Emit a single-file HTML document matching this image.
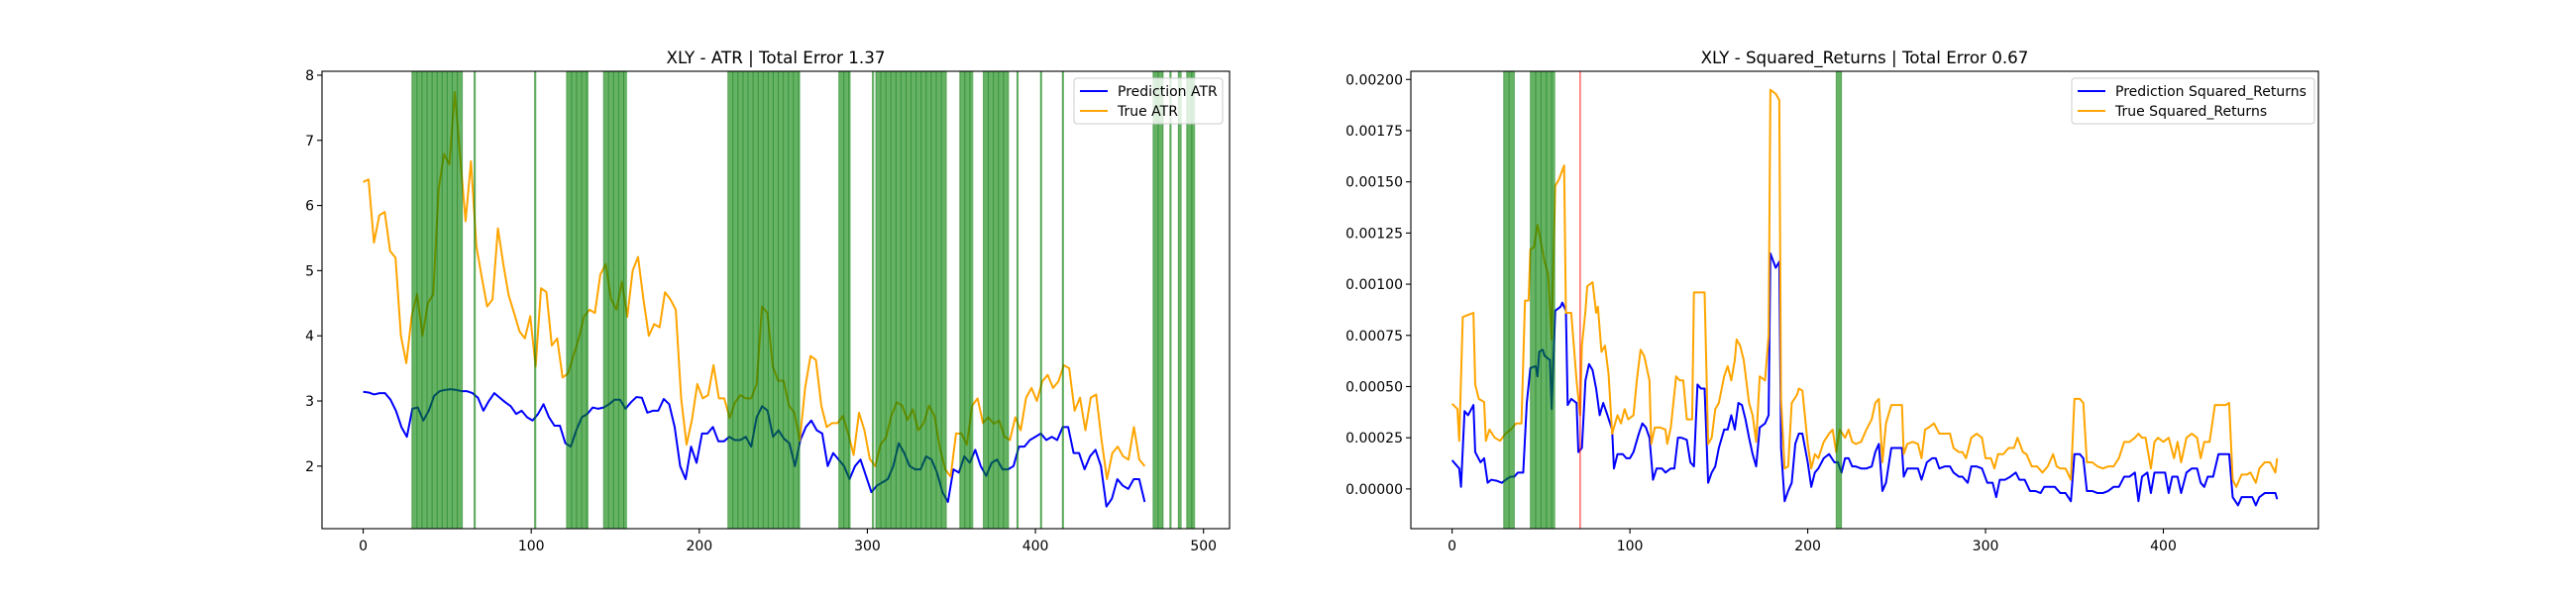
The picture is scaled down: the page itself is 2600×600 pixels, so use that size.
<!DOCTYPE html>
<html><head><meta charset="utf-8">
<style>
html,body{margin:0;padding:0;background:#fff;}
svg{display:block;font-family:"DejaVu Sans","Liberation Sans",sans-serif;}
</style></head>
<body>
<svg id="fig" width="2600" height="600" viewBox="0 0 2600 600" xmlns="http://www.w3.org/2000/svg">
<rect x="0" y="0" width="2600" height="600" fill="#fff"/>
</svg>
<script>
// ---------- Chart 1: ATR ----------
const atrTrue = [6.36,6.4,5.43,5.85,5.9,5.3,5.2,4.0,3.58,4.3,4.64,4.0,4.5,4.64,6.25,6.79,6.63,7.74,6.74,5.76,6.68,5.38,4.9,4.45,4.56,5.65,5.1,4.62,4.35,4.07,3.96,4.3,3.53,4.73,4.67,3.85,3.96,3.36,3.42,3.69,3.96,4.3,4.4,4.35,4.94,5.1,4.56,4.4,4.83,4.29,5.0,5.21,4.56,4.0,4.18,4.13,4.67,4.56,4.4,3.04,2.33,2.71,3.26,3.04,3.09,3.55,3.04,3.04,2.74,2.98,3.09,3.04,3.04,3.26,4.45,4.35,3.53,3.31,3.31,2.93,2.82,2.39,3.2,3.69,3.63,2.93,2.6,2.66,2.66,2.77,2.5,2.17,2.82,2.55,2.11,2.0,2.33,2.44,2.77,2.98,2.93,2.71,2.87,2.55,2.66,2.93,2.77,2.28,1.95,1.84,2.5,2.5,2.33,2.93,3.04,2.66,2.75,2.65,2.7,2.45,2.4,2.75,2.55,3.05,3.2,3.0,3.3,3.4,3.2,3.3,3.55,3.5,2.85,3.05,2.55,3.05,3.1,2.4,1.8,2.2,2.3,2.15,2.1,2.6,2.1,2.0];
const atrPred = [3.14,3.13,3.1,3.12,3.12,3.02,2.85,2.6,2.45,2.88,2.9,2.7,2.85,3.08,3.15,3.17,3.18,3.17,3.15,3.15,3.12,3.05,2.85,3.0,3.12,3.05,2.98,2.92,2.8,2.85,2.75,2.7,2.8,2.95,2.75,2.62,2.62,2.35,2.3,2.55,2.75,2.8,2.9,2.88,2.9,2.95,3.02,3.02,2.88,2.98,3.06,3.05,2.82,2.85,2.85,3.03,2.95,2.6,2.0,1.8,2.3,2.05,2.5,2.5,2.6,2.38,2.38,2.45,2.4,2.4,2.45,2.3,2.75,2.92,2.85,2.45,2.55,2.42,2.35,2.0,2.4,2.6,2.7,2.55,2.5,2.0,2.2,2.1,2.0,1.8,2.0,2.1,1.85,1.6,1.7,1.75,1.8,2.0,2.35,2.2,2.0,1.95,1.95,2.15,2.1,1.9,1.6,1.45,1.95,1.9,2.15,2.05,2.25,2.0,1.85,2.05,2.1,1.95,1.95,2.0,2.3,2.3,2.4,2.45,2.5,2.4,2.45,2.4,2.6,2.6,2.2,2.2,1.95,2.15,2.25,2.0,1.38,1.5,1.8,1.7,1.65,1.8,1.8,1.45];
const atrLastIndex = 465;
const atrSpans = [[29,59],[66,67],[102,103],[121,134],[143,157],[217,260],[283,290],[303,304],[305,347],[355,363],[369,384],[389,390],[403,404],[416,417],[470,476],[480,481],[485,487],[490,495]];
const atrXTicks = [0,100,200,300,400,500];
const atrYTicks = [2,3,4,5,6,7,8];

// ---------- Chart 2: Squared Returns ----------
const srTrue = [[0,0.000416],[3,0.00039],[4,0.000235],[6,0.00084],[9,0.00085],[12,0.00086],[13,0.00051],[15,0.00044],[18,0.000425],[19,0.000235],[21,0.00029],[24,0.00025],[27,0.000235],[30,0.00027],[33,0.00029],[36,0.00032],[39,0.00032],[41,0.00092],[43,0.00092],[44,0.00117],[46,0.00118],[48,0.00129],[49,0.00125],[52,0.00111],[54,0.00105],[56,0.00073],[58,0.00148],[60,0.00151],[63,0.00158],[64,0.00086],[67,0.00086],[70,0.00053],[72,0.00036],[73,0.0007],[75,0.00087],[76,0.00099],[79,0.00101],[81,0.00086],[82,0.00089],[84,0.00067],[86,0.0007],[88,0.00056],[90,0.00027],[93,0.00036],[95,0.00032],[97,0.00039],[99,0.00034],[102,0.00036],[104,0.00054],[106,0.00068],[108,0.00065],[111,0.00053],[112,0.00022],[114,0.0003],[117,0.0003],[120,0.00029],[121,0.00022],[123,0.0003],[126,0.00055],[128,0.00053],[130,0.00053],[132,0.00034],[135,0.00034],[136,0.00096],[139,0.00096],[142,0.00096],[144,0.00022],[146,0.00025],[148,0.00039],[150,0.00042],[153,0.00055],[155,0.0006],[157,0.00053],[159,0.00063],[160,0.00073],[162,0.0007],[164,0.00063],[167,0.00042],[169,0.00036],[171,0.00023],[173,0.00055],[176,0.00053],[178,0.00075],[179,0.00195],[182,0.00193],[184,0.0019],[185,0.00044],[187,0.0001],[189,0.00011],[191,0.00042],[194,0.00046],[195,0.00049],[197,0.00048],[200,0.00022],[202,0.0001],[204,0.00017],[206,0.00015],[209,0.00023],[212,0.00027],[214,0.00029],[216,0.00018],[218,0.00029],[221,0.00025],[223,0.00029],[225,0.00023],[227,0.00022],[230,0.00023],[233,0.00029],[236,0.00034],[238,0.00042],[240,0.00044],[242,0.00013],[244,0.00032],[247,0.00041],[250,0.00041],[253,0.00041],[254,0.00017],[256,0.00022],[259,0.00023],[262,0.00022],[264,0.00015],[266,0.00029],[268,0.0003],[271,0.00032],[274,0.00027],[277,0.00027],[280,0.00027],[282,0.0002],[285,0.00018],[287,0.00018],[289,0.00015],[292,0.00025],[295,0.00027],[298,0.00025],[300,0.00015],[303,0.00015],[305,0.0001],[307,0.00017],[310,0.00017],[313,0.0002],[316,0.0002],[318,0.00025],[321,0.00018],[323,0.00017],[326,0.00011],[329,0.00011],[332,0.00008],[335,0.00011],[338,0.00017],[340,0.00011],[342,0.0001],[345,0.0001],[348,0.000045],[350,0.00044],[353,0.00044],[355,0.00042],[357,0.00013],[360,0.00013],[363,0.00011],[366,0.0001],[369,0.00011],[372,0.00011],[375,0.00015],[378,0.00023],[381,0.00023],[384,0.00025],[386,0.00027],[388,0.00025],[390,0.00025],[393,0.0001],[395,0.00023],[397,0.00025],[400,0.00023],[403,0.00025],[406,0.00015],[408,0.00023],[410,0.00013],[413,0.00025],[416,0.00027],[419,0.00025],[421,0.00015],[423,0.00023],[426,0.00023],[429,0.00041],[432,0.00041],[435,0.00041],[437,0.00042],[439,0.000045],[441,0.00001],[444,0.00007],[447,0.00007],[449,0.00008],[452,0.00003],[454,0.0001],[457,0.00013],[460,0.00013],[463,0.00008],[464,0.00015]];
const srPred = [[0,0.00014],[2,0.00012],[4,0.0001],[5,0.00001],[7,0.00038],[9,0.00036],[12,0.00041],[13,0.00018],[16,0.00013],[18,0.00015],[20,0.00003],[22,0.000045],[25,0.00004],[28,0.00003],[31,0.00005],[33,0.00006],[35,0.00006],[37,0.00008],[40,0.00008],[42,0.00042],[44,0.00059],[47,0.0006],[48,0.00055],[49,0.00067],[51,0.00068],[52,0.00065],[55,0.00063],[56,0.00039],[58,0.00087],[61,0.00089],[62,0.00091],[64,0.00087],[65,0.00041],[67,0.00044],[70,0.00042],[71,0.00018],[73,0.0002],[75,0.00053],[77,0.00061],[79,0.00058],[81,0.00049],[83,0.00036],[85,0.00042],[87,0.00037],[90,0.00029],[91,0.0001],[93,0.00017],[96,0.00017],[98,0.00015],[100,0.00015],[102,0.00018],[105,0.00027],[107,0.00032],[109,0.0003],[111,0.00025],[113,0.000045],[115,0.0001],[118,0.0001],[120,0.00008],[123,0.0001],[125,0.0001],[127,0.00025],[129,0.00025],[132,0.00024],[134,0.00013],[136,0.00011],[138,0.00051],[140,0.00049],[142,0.00049],[144,0.00003],[146,0.00008],[148,0.00011],[150,0.0002],[153,0.00029],[155,0.00029],[157,0.00036],[159,0.00029],[161,0.00042],[163,0.00041],[165,0.00034],[167,0.00025],[169,0.00017],[171,0.00011],[173,0.0003],[176,0.00032],[178,0.00036],[179,0.00115],[182,0.00108],[184,0.00111],[185,0.0002],[187,-0.00006],[189,-0.00001],[191,0.00003],[193,0.00022],[195,0.00027],[197,0.00027],[200,0.00013],[202,0.00001],[204,0.00008],[206,0.0001],[209,0.00015],[212,0.00017],[215,0.00013],[217,0.00013],[219,0.00008],[221,0.00015],[223,0.00015],[225,0.00011],[227,0.00011],[230,0.0001],[233,0.0001],[236,0.00011],[238,0.00018],[240,0.00022],[242,-0.00001],[244,0.00003],[247,0.0002],[250,0.0002],[253,0.0002],[254,0.00006],[256,0.0001],[259,0.0001],[262,0.0001],[264,0.000045],[267,0.00013],[270,0.00015],[272,0.00015],[274,0.0001],[277,0.00011],[280,0.00011],[282,0.00008],[285,0.00006],[287,0.00006],[290,0.00003],[292,0.00011],[295,0.00011],[298,0.0001],[301,0.00003],[304,0.00003],[306,-0.00004],[308,0.000045],[311,0.000045],[314,0.00006],[317,0.00008],[319,0.000045],[322,0.000045],[325,-0.00001],[328,-0.00001],[331,-0.00002],[333,0.00001],[336,0.00001],[339,0.00001],[342,-0.00002],[345,-0.00002],[348,-0.00006],[350,0.00017],[353,0.00017],[355,0.00015],[357,-0.00001],[360,-0.00001],[363,-0.00002],[366,-0.00002],[369,-0.00001],[372,0.00001],[375,0.00001],[378,0.00006],[381,0.00006],[384,0.00008],[386,-0.00006],[388,0.00006],[391,0.00008],[393,-0.00002],[395,0.00008],[398,0.00008],[401,0.00008],[403,-0.00002],[405,0.00006],[408,0.00006],[410,-0.00002],[413,0.00008],[416,0.0001],[419,0.0001],[421,0.00003],[423,0.00001],[425,0.00006],[428,0.00006],[431,0.00017],[434,0.00017],[437,0.00017],[439,-0.00004],[442,-0.00008],[444,-0.00004],[447,-0.00004],[450,-0.00004],[452,-0.00008],[454,-0.00004],[457,-0.00002],[460,-0.00002],[463,-0.00002],[464,-0.00005]];
const srSpans = [[29,35],[44,58],[216,219]];
const srRedLines = [72];
const srXTicks = [0,100,200,300,400];
const srYTicks = [0,0.00025,0.0005,0.00075,0.001,0.00125,0.0015,0.00175,0.002];
const srYTickLabels = ["0.00000","0.00025","0.00050","0.00075","0.00100","0.00125","0.00150","0.00175","0.00200"];

const NS = "http://www.w3.org/2000/svg";
const fig = document.getElementById('fig');
function mk(tag, attrs, parent){ const e=document.createElementNS(NS,tag); for(const k in attrs) e.setAttribute(k,attrs[k]); (parent||fig).appendChild(e); return e; }

function drawChart(cfg){
  const g = mk('g',{});
  
  
  const L=cfg.left, R=cfg.right, T=72, B=534;
  const xs = v => L + (v - cfg.xlim[0])/(cfg.xlim[1]-cfg.xlim[0])*(R-L);
  const ys = v => B - (v - cfg.ylim[0])/(cfg.ylim[1]-cfg.ylim[0])*(B-T);
  // clip
  const cid = 'clip-'+cfg.name;
  const defs = mk('defs',{},g);
  const cp = mk('clipPath',{id:cid},defs);
  mk('rect',{x:L,y:T,width:R-L,height:B-T},cp);
  const plot = mk('g',{'clip-path':'url(#'+cid+')'},g);
  // lines
  cfg.series.forEach(s=>{
    const d = s.pts.map((p,i)=>(i?'L':'M')+xs(p[0]).toFixed(2)+' '+ys(p[1]).toFixed(2)).join(' ');
    const path = mk('path',{d:d,fill:'none',stroke:s.color,'stroke-width':2,'stroke-linejoin':'round'},plot);
    
    
  });
  // spans (on top)
  cfg.spans.forEach((sp,k)=>{
    const r = mk('rect',{x:xs(sp[0]),y:T,width:Math.max(1.5,xs(sp[1])-xs(sp[0])),height:B-T,fill:'rgb(0,128,0)','fill-opacity':0.6},plot);
    
    
    for(let v=sp[0]; v<=sp[1]; v+=3){
      mk('line',{x1:xs(v),x2:xs(v),y1:T,y2:B,stroke:'rgb(0,110,0)','stroke-opacity':0.45,'stroke-width':1},plot);
    }
  });
  (cfg.red||[]).forEach(v=>{
    const l = mk('line',{x1:xs(v),x2:xs(v),y1:T,y2:B,stroke:'red','stroke-opacity':0.6,'stroke-width':1.5},plot);
    
    
  });
  // frame
  const fr = mk('rect',{x:L,y:T,width:R-L,height:B-T,fill:'none',stroke:'#000','stroke-width':1.1},g);
  
  
  // x ticks
  cfg.xticks.forEach(v=>{
    const x=xs(v);
    mk('line',{x1:x,x2:x,y1:B,y2:B+5,stroke:'#000','stroke-width':1.1},g);
    const t = mk('text',{x:x,y:B+22,'font-size':14,'text-anchor':'middle',fill:'#000'},g);
    t.textContent = v;
    
    
  });
  cfg.yticks.forEach((v,i)=>{
    const y=ys(v);
    mk('line',{x1:L-5,x2:L,y1:y,y2:y,stroke:'#000','stroke-width':1.1},g);
    const t = mk('text',{x:L-8,y:y+5,'font-size':14,'text-anchor':'end',fill:'#000'},g);
    t.textContent = cfg.ylabels ? cfg.ylabels[i] : v;
    
    
  });
  const title = mk('text',{x:(L+R)/2,y:64,'font-size':16.7,'text-anchor':'middle',fill:'#000'},g);
  title.textContent = cfg.title;
  
  
  // legend
  const lg = mk('g',{},g);
  
  
  mk('rect',{x:cfg.legX,y:79,width:cfg.legW,height:46,rx:3,fill:'#fff','fill-opacity':0.8,stroke:'#ccc','stroke-width':1},lg);
  cfg.series.forEach((s,i)=>{
    const yy = 92 + i*20;
    mk('line',{x1:cfg.legX+6,x2:cfg.legX+34,y1:yy,y2:yy,stroke:s.color,'stroke-width':2},lg);
    const t = mk('text',{x:cfg.legX+44,y:yy+5,'font-size':14,fill:'#000'},lg);
    t.textContent = s.label;
    
    
  });
}

const toPts = (arr, last) => arr.map((v,i)=>[i*last/(arr.length-1), v]);

drawChart({name:'atr-chart', left:325, right:1241, xlim:[-24.5,515.5], ylim:[1.04,8.06],
  series:[{id:'prediction-atr-line',label:'Prediction ATR',color:'#0000ff',pts:toPts(atrPred,atrLastIndex)},
          {id:'true-atr-line',label:'True ATR',color:'#ffa500',pts:toPts(atrTrue,atrLastIndex)}],
  spans:atrSpans, xticks:atrXTicks, yticks:atrYTicks,
  title:'XLY - ATR | Total Error 1.37', legX:1084, legW:150});

drawChart({name:'squared-returns-chart', left:1424, right:2340, xlim:[-23.2,487.2], ylim:[-0.000194,0.00204],
  series:[{id:'prediction-sr-line',label:'Prediction Squared_Returns',color:'#0000ff',pts:srPred},
          {id:'true-sr-line',label:'True Squared_Returns',color:'#ffa500',pts:srTrue}],
  spans:srSpans, red:srRedLines, xticks:srXTicks, yticks:srYTicks, ylabels:srYTickLabels,
  title:'XLY - Squared_Returns | Total Error 0.67', legX:2091, legW:245});
</script>
</body></html>
